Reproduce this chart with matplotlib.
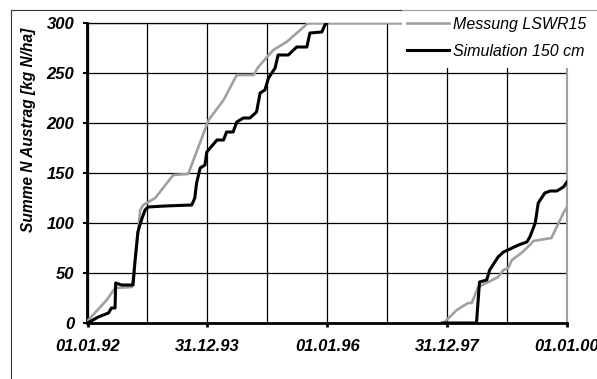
import numpy as np
import matplotlib
matplotlib.use("Agg")
import matplotlib.pyplot as plt
from matplotlib.lines import Line2D
from matplotlib.patches import Rectangle
from matplotlib.ticker import MultipleLocator

plt.rcParams["font.family"] = ["Liberation Sans", "DejaVu Sans"]

# Messung LSWR15 (decimal years, kg N/ha); NaN separates the two periods
mess_x = [1992.0, 1992.32, 1992.46, 1992.74, 1992.82, 1992.88, 1992.93, 1993.13,
          1993.43, 1993.68, 1993.85, 1994.02, 1994.27, 1994.49, 1994.77, 1994.85,
          1995.10, 1995.32, 1995.55, 1995.66, 1995.70, 1997.30, np.nan,
          1997.94, 1998.16, 1998.35, 1998.41, 1998.52, 1998.69, 1998.85, 1998.94,
          1999.02, 1999.08, 1999.24, 1999.38, 1999.44, 1999.74, 1999.94, 2000.0]
mess_y = [2, 23, 35, 36, 76, 113, 118, 125,
          148, 149, 176, 203, 223, 248, 248, 256,
          273, 281, 293, 299, 300, 300, np.nan,
          0, 13, 20, 20, 36, 41, 46, 53,
          55, 63, 70, 78, 82, 85, 110, 116]

# Simulation 150 cm
sim_x = [1992.0, 1992.18, 1992.35, 1992.40, 1992.46, 1992.47, 1992.57, 1992.76,
         1992.79, 1992.84, 1992.90, 1992.96, 1993.01, 1993.29, 1993.74, 1993.79,
         1993.82, 1993.88, 1993.96, 1993.99, 1994.16, 1994.27, 1994.32, 1994.43,
         1994.49, 1994.60, 1994.71, 1994.82, 1994.88, 1994.96, 1995.02, 1995.13,
         1995.18, 1995.35, 1995.49, 1995.66, 1995.71, 1995.91, 1995.96, 1995.99, np.nan,
         1997.92, 1998.49, 1998.54, 1998.66, 1998.71, 1998.85, 1998.94, 1999.05,
         1999.19, 1999.33, 1999.38, 1999.47, 1999.52, 1999.63, 1999.72, 1999.83,
         1999.94, 2000.0]
sim_y = [0, 6, 10, 15, 15, 40, 38, 38,
         60, 91, 103, 113, 116, 117, 118, 125,
         140, 155, 158, 171, 183, 183, 191, 191,
         201, 205, 205, 211, 230, 233, 245, 255,
         268, 268, 276, 276, 290, 291, 298, 300, np.nan,
         0, 0, 41, 43, 53, 66, 71, 74,
         78, 81, 86, 100, 120, 130, 132, 132,
         136, 141]

tick_pos = [1992, 1994, 1996, 1998, 2000]
tick_labels = ["01.01.92", "31.12.93", "01.01.96", "31.12.97", "01.01.00"]

W, H = 597, 379
fig = plt.figure(figsize=(W / 100, H / 100), dpi=100)
ax = fig.add_axes([87.5 / W, (H - 323) / H, 479.5 / W, 300 / H])

ax.plot(mess_x, mess_y, color="#a0a0a0", lw=1.9, label="Messung LSWR15", zorder=3)
ax.plot(sim_x, sim_y, color="black", lw=2.2, label="Simulation 150 cm", zorder=4)

ax.set_xlim(1992, 2000)
ax.set_ylim(0, 300)
ax.set_xticks(tick_pos)
ax.set_xticklabels(tick_labels)
ax.xaxis.set_minor_locator(MultipleLocator(1))
ax.yaxis.set_major_locator(MultipleLocator(50))
ax.grid(True, which="both", color="black", lw=0.9, zorder=1)
ax.set_axisbelow(True)

ax.tick_params(axis="x", which="major", direction="out", length=3, width=2, pad=8.5)
ax.tick_params(axis="x", which="minor", length=0)
ax.tick_params(axis="y", direction="out", length=3, width=1.5, pad=6.5)
for lab in ax.get_xticklabels() + ax.get_yticklabels():
    lab.set_fontsize(12)
    lab.set_fontweight("bold")
    lab.set_fontstyle("italic")

ax.spines["left"].set_linewidth(2)
ax.spines["bottom"].set_linewidth(2)
ax.spines["top"].set_linewidth(0.9)
ax.spines["right"].set_color("#a0a0a0")
ax.spines["right"].set_linewidth(1.5)

ax.set_ylabel("Summe N Austrag [kg N/ha]", fontsize=11.2, fontweight="bold", fontstyle="italic")
ax.yaxis.set_label_coords(-0.108, 0.643)

# white box behind the legend, covering the grid at the top right
ax.add_patch(Rectangle((402 / W, (H - 68) / H), 1, 1, transform=fig.transFigure,
                       facecolor="white", edgecolor="none", clip_on=False, zorder=5))
leg = ax.legend(loc="upper left", bbox_to_anchor=(407 / W, (H - 17) / H),
                bbox_transform=fig.transFigure, frameon=False, fontsize=11.5,
                handlelength=2.6, handletextpad=0.25, labelspacing=0.75,
                borderpad=0, borderaxespad=0)
leg.set_zorder(6)
for t in leg.get_texts():
    t.set_fontstyle("italic")

# outer chart frame
fig.add_artist(Line2D([11 / W, 11 / W], [0, (H - 9.5) / H], color="#333333", lw=0.8))
fig.add_artist(Line2D([11 / W, 402 / W], [(H - 9.5) / H] * 2, color="#333333", lw=0.8))
fig.add_artist(Line2D([402 / W, 1], [(H - 9.5) / H] * 2, color="#a0a0a0", lw=0.8))

fig.savefig("out.png", dpi=100)
